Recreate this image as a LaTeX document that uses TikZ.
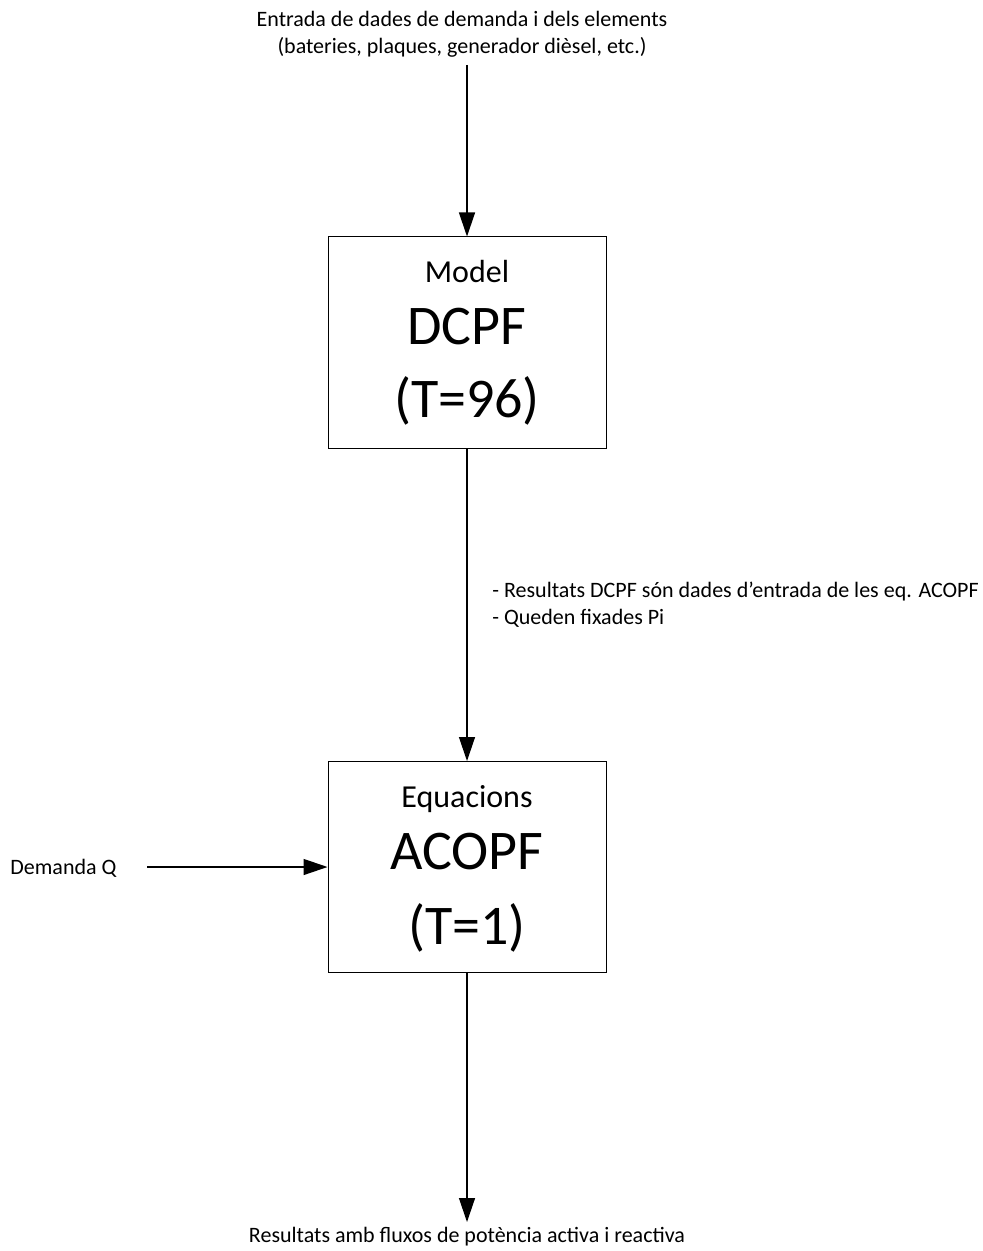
\documentclass[tikz,border=0pt]{standalone}
\usepackage{fontspec}
\setmainfont{Carlito}
\usetikzlibrary{arrows.meta, positioning, calc}

\begin{document}
\begin{tikzpicture}[x=0.5pt, y=-0.5pt,
  box/.style={draw, line width=0.5pt, minimum width=139pt, minimum height=105.5pt, inner sep=0pt},
  flow/.style={line width=0.65pt, -{Triangle[length=12pt, width=8pt]}},
  small/.style={font=\fontsize{11}{13.5}\selectfont, inner sep=0pt},
  head/.style={font=\fontsize{16}{19}\selectfont, anchor=base, inner sep=0pt},
  big/.style={font=\fontsize{28}{34}\selectfont, anchor=base, inner sep=0pt}]
  \useasboundingbox (0,0) rectangle (983,1251);
  \node[box] (dcpf) at (467,342.5) {};
  \node[box] (acopf) at (467,867) {};
  \node[head] (dcpfhead) at ([yshift=-23pt]dcpf.north) {Model};
  \node[big] (dcpfname) at ([yshift=-54pt]dcpf.north) {DCPF};
  \node[big] (dcpfT) at ([yshift=-90.5pt]dcpf.north) {(T=96)};
  \node[head] (acopfhead) at ([yshift=-23pt]acopf.north) {Equacions};
  \node[big] (acopfname) at ([yshift=-54pt]acopf.north) {ACOPF};
  \node[big] (acopfT) at ([yshift=-91.5pt]acopf.north) {(T=1)};
  \node[small, align=center] (inputs) at (462,34) {Entrada de dades de demanda i dels elements\\(bateries, plaques, generador dièsel, etc.)};
  \node[small, align=left, anchor=west] (note) at (492,605) {- Resultats DCPF són dades d’entrada de les eq. ACOPF\\- Queden fixades Pi};
  \node[small, anchor=west] (demq) at (10,868) {Demanda Q};
  \node[small] (results) at (467,1237) {Resultats amb fluxos de potència activa i reactiva};
  \coordinate (src) at (467,65);
  \coordinate (qin) at (147,867);
  \coordinate (out) at (467,1222);
  \draw[flow] (src) -- (dcpf.north);
  \draw[flow] (dcpf.south) -- (acopf.north);
  \draw[flow] (qin) -- (acopf.west);
  \draw[flow] (acopf.south) -- (out);
\end{tikzpicture}
\end{document}
